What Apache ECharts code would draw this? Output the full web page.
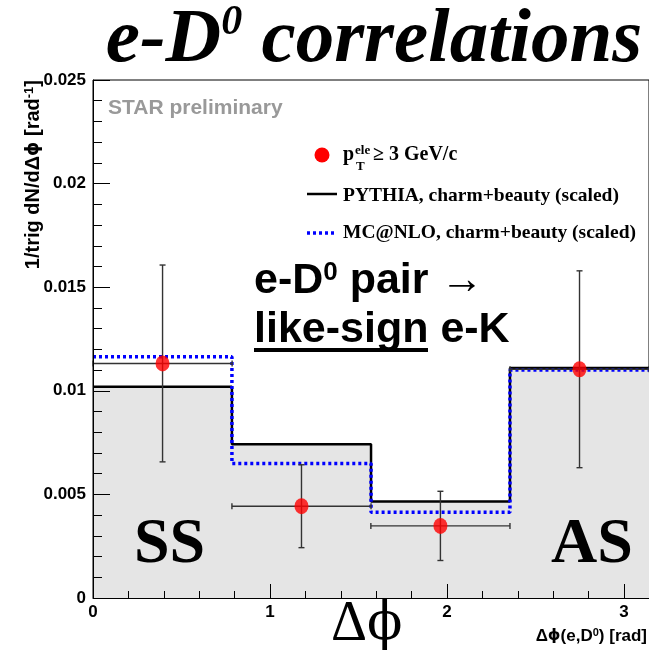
<!DOCTYPE html>
<html><head><meta charset="utf-8">
<script src="https://cdn.jsdelivr.net/npm/echarts@6/dist/echarts.min.js"></script>
<style>html,body{margin:0;padding:0;background:#fff}#c{width:649px;height:658px}</style>
</head><body><div id="c"></div>
<script>
// ---- data ----
const binEdges = [0, 0.785, 1.571, 2.356, 3.1416];
const pythia = [0.0102, 0.00742, 0.00466, 0.0111];
const mcnlo = [0.01164, 0.00649, 0.00414, 0.0110];
const phiCenters = [0.393, 1.178, 1.963, 2.749];
const dataVals = [0.01132, 0.00443, 0.00348, 0.01104];
const dataErrY = [0.00475, 0.0020, 0.00167, 0.00475];
const dataErrX = [0.393, 0.393, 0.393, 0.393];
const xMajorInterval = 1;
const xMinorInterval = 0.2;
const yInterval = 0.005;
const yMax = 0.025;

const SANS = '"Liberation Sans", Arial, sans-serif';
const SERIF = '"Liberation Serif", "Times New Roman", serif';
const GSERIF = '"DejaVu Serif", "Liberation Serif", serif';

function stepData(vals) {
  return binEdges.map((e, i) => [e, vals[Math.min(i, vals.length - 1)]]);
}
const points = phiCenters.map((x, i) => [x, dataVals[i], dataErrX[i], dataErrY[i]]);

const chart = echarts.init(document.getElementById('c'));

function T(x, y, text, font, extra) {
  const st = Object.assign({ text: text, font: font, fill: '#000', textAlign: 'left', textVerticalAlign: 'middle', verticalAlign: 'middle' }, extra || {});
  st.align = st.textAlign;
  return { type: 'text', x: x, y: y, z: 100, style: st };
}

const option = {
  animation: false,
  grid: { left: 93, top: 80, right: 0, bottom: 60, show: true, borderColor: '#000', borderWidth: 1, backgroundColor: '#fff' },
  xAxis: [{
    type: 'value', min: binEdges[0], max: binEdges[binEdges.length - 1], interval: xMajorInterval, z: 10,
    axisLine: { show: true, onZero: false, lineStyle: { color: '#000', width: 1 } },
    axisTick: { inside: true, length: 14, lineStyle: { color: '#000', width: 1 } },
    splitLine: { show: false },
    axisLabel: { showMaxLabel: false, formatter: v => Number.isInteger(v) ? String(v) : '', color: '#000', fontFamily: SANS, fontWeight: 'bold', fontSize: 17, margin: 6 }
  }, {
    type: 'value', min: binEdges[0], max: binEdges[binEdges.length - 1], interval: xMinorInterval, z: 10, position: 'bottom',
    axisLine: { show: false }, axisTick: { inside: true, length: 7, lineStyle: { color: '#000', width: 1 } },
    axisLabel: { show: false }, splitLine: { show: false }
  }],
  yAxis: {
    type: 'value', min: 0, max: yMax, interval: yInterval, z: 10,
    axisLine: { show: true, lineStyle: { color: '#000', width: 1 } },
    axisTick: { inside: true, length: 17, lineStyle: { color: '#000', width: 1 } },
    minorTick: { show: true, splitNumber: 5, length: 9, lineStyle: { color: '#000', width: 1 } },
    splitLine: { show: false }, minorSplitLine: { show: false },
    axisLabel: { formatter: v => v === 0 ? '0' : String(parseFloat(v.toFixed(4))), color: '#000', fontFamily: SANS, fontWeight: 'bold', fontSize: 17, margin: 7 }
  },
  series: [{
    name: 'PYTHIA', type: 'line', step: 'end', data: stepData(pythia), symbol: 'none', z: 2,
    lineStyle: { color: '#000', width: 2.5 },
    areaStyle: { color: '#e5e5e5', opacity: 1 }
  }, {
    name: 'MC@NLO', type: 'line', step: 'end', data: stepData(mcnlo), symbol: 'none', z: 3,
    lineStyle: { color: '#0000ff', width: 3.5, type: [3, 3], cap: 'butt' }
  }, {
    name: 'errors', type: 'custom', z: 4, data: points,
    renderItem: function (params, api) {
      const x = api.value(0), y = api.value(1), ex = api.value(2), ey = api.value(3);
      const t = api.coord([x, y + ey]), b = api.coord([x, y - ey]);
      const l = api.coord([x - ex, y]), r = api.coord([x + ex, y]);
      const st = { stroke: '#333', lineWidth: 1.4 };
      const c = 3;
      const L = (x1, y1, x2, y2) => ({ type: 'line', shape: { x1, y1, x2, y2 }, style: st });
      return { type: 'group', children: [
        L(t[0], t[1], b[0], b[1]), L(t[0] - c, t[1], t[0] + c, t[1]), L(b[0] - c, b[1], b[0] + c, b[1]),
        L(l[0], l[1], r[0], r[1]), L(l[0], l[1] - c, l[0], l[1] + c), L(r[0], r[1] - c, r[0], r[1] + c)
      ] };
    }
  }, {
    name: 'data', type: 'scatter', z: 5, data: points.map(p => [p[0], p[1]]),
    symbol: 'circle', symbolSize: [14, 16], itemStyle: { color: '#ff0000' }
  }],
  graphic: [
    // title
    T(374, 41, '{a|e-D}{s|0}{a| correlations}', 'italic bold 77px ' + SERIF, {
      textAlign: 'center',
      rich: {
        a: { fontFamily: SERIF, fontStyle: 'italic', fontWeight: 'bold', fontSize: 77 },
        s: { fontFamily: SERIF, fontStyle: 'italic', fontWeight: 'bold', fontSize: 42, verticalAlign: 'top' }
      }
    }),
    T(108, 108, 'STAR preliminary', 'bold 21px ' + SANS, { fill: '#999' }),
    // legend
    { type: 'circle', z: 100, shape: { cx: 322, cy: 155, r: 7.5 }, style: { fill: '#ff0000' } },
    T(343, 155, 'p', 'bold 20px ' + SERIF),
    T(355, 151, 'ele', 'bold 13px ' + SERIF),
    T(356, 167, 'T', 'bold 13px ' + SERIF),
    T(373, 155, '≥ 3 GeV/c', 'bold 20px ' + SERIF),
    { type: 'line', z: 100, shape: { x1: 307, y1: 194, x2: 337, y2: 194 }, style: { stroke: '#000', lineWidth: 2.5 } },
    T(343, 196, 'PYTHIA, charm+beauty (scaled)', 'bold 19.5px ' + SERIF),
    { type: 'line', z: 100, shape: { x1: 307, y1: 233, x2: 337, y2: 233 }, style: { stroke: '#0000ff', lineWidth: 3.5, lineDash: [3, 3] } },
    T(343, 233, 'MC@NLO, charm+beauty (scaled)', 'bold 19.5px ' + SERIF),
    // annotation
    T(254, 281, '{a|e-D}{s|0}{a| pair →}', 'bold 43px ' + SANS, {
      rich: {
        a: { fontFamily: SANS, fontWeight: 'bold', fontSize: 43 },
        s: { fontFamily: SANS, fontWeight: 'bold', fontSize: 26, verticalAlign: 'top' }
      }
    }),
    T(254, 330, 'like-sign e-K', 'bold 43px ' + SANS),
    { type: 'rect', z: 100, shape: { x: 254, y: 348, width: 174, height: 4 }, style: { fill: '#000' } },
    T(134, 545, 'SS', 'bold 64px ' + SERIF),
    T(551, 545, 'AS', 'bold 64px ' + SERIF),
    T(331, 625, '{a|Δ}{b|ϕ}', '56px ' + SERIF, {
      rich: {
        a: { fontFamily: SERIF, fontSize: 56 },
        b: { fontFamily: GSERIF, fontSize: 52 }
      }
    }),
    // axis titles
    T(647, 636, '{a|Δ}{g|ϕ}{a|(e,D}{s|0}{a|) [rad]}', 'bold 17px ' + SANS, {
      textAlign: 'right',
      rich: {
        a: { fontFamily: SANS, fontWeight: 'bold', fontSize: 17 },
        g: { fontFamily: '"DejaVu Sans", sans-serif', fontWeight: 'bold', fontSize: 16 },
        s: { fontFamily: SANS, fontWeight: 'bold', fontSize: 11, verticalAlign: 'top' }
      }
    }),
    {
      type: 'text', x: 33, y: 80, rotation: Math.PI / 2, z: 100,
      style: {
        text: '{a|1/trig dN/dΔ}{g|ϕ}{a| [rad}{s|-1}{a|]}', font: 'bold 20px ' + SANS, fill: '#000',
        textAlign: 'right', align: 'right', textVerticalAlign: 'middle', verticalAlign: 'middle',
        rich: {
          a: { fontFamily: SANS, fontWeight: 'bold', fontSize: 20 },
          g: { fontFamily: '"DejaVu Sans", sans-serif', fontWeight: 'bold', fontSize: 18 },
          s: { fontFamily: SANS, fontWeight: 'bold', fontSize: 13, verticalAlign: 'top' }
        }
      }
    }
  ]
};
chart.setOption(option);
</script>
</body></html>
